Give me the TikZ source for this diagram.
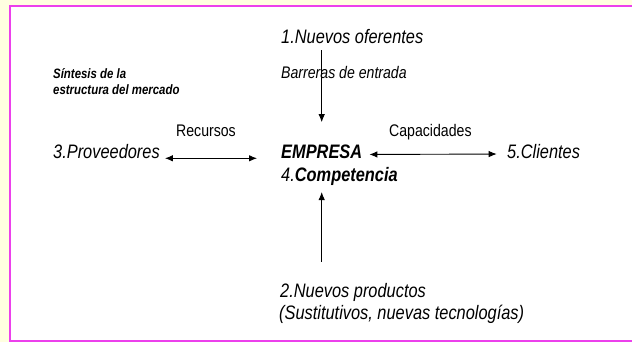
\documentclass[tikz,border=0pt]{standalone}
\usepackage{fontspec}
\setmainfont{Liberation Sans}[FakeStretch=0.84]
\usetikzlibrary{arrows.meta}
\definecolor{paper}{RGB}{255,255,224}
\definecolor{rim}{RGB}{236,64,236}

\begin{document}
\begin{tikzpicture}[x=1pt,y=-1pt]

    \tikzstyle{force} = [anchor=base west, inner sep=0pt, font=\fontsize{19.5}{23}\selectfont\itshape]
    \tikzstyle{flow} = [anchor=base west, inner sep=0pt, font=\fontsize{16.8}{20}\selectfont]
    \tikzstyle{flowit} = [flow, font=\fontsize{16.8}{20}\selectfont\itshape]
    \tikzstyle{note} = [anchor=base west, inner sep=0pt, font=\fontsize{13.6}{16}\selectfont\bfseries\itshape]
    \tikzstyle{arr} = [line width=0.9pt, -{Latex[length=8pt,width=6.5pt]}]
    \tikzstyle{arrs} = [line width=0.9pt, {Latex[length=8pt,width=6.5pt]}-{Latex[length=8pt,width=6.5pt]}]

    % Frame
    \useasboundingbox (0,0) rectangle (632,342);
    \clip (0,0) rectangle (632,342);
    \fill[paper] (0,0) rectangle (632,342);
    \draw[rim, line width=2pt, fill=white] (9.5,6) rectangle (650,341);

    % Nodes
    \node[force] at (281,44) (n1) {1.Nuevos oferentes};
    \node[force] at (53,159) (prov) {3.Proveedores};
    \node[force] at (281,159) (empresa) {\bfseries EMPRESA};
    \node[force] at (281,182) (comp) {4.\textbf{Competencia}};
    \node[force] at (507,158.5) (clientes) {5.Clientes};
    \node[force] at (280,297) (n2) {2.Nuevos productos};
    \node[force] at (279,319.5) (sust) {(Sustitutivos, nuevas tecnologías)};

    % Labels
    \node[note] at (53,79) (sintesis) {Síntesis de la};
    \node[note] at (53,95) (estructura) {estructura del mercado};
    \node[flowit] at (281,78.5) (barreras) {Barreras de entrada};
    \node[flow] at (176,137) (recursos) {Recursos};
    \node[flow] at (389,137) (capac) {Capacidades};

    % Arrows
    \draw[arr, shorten <=6pt, shorten >=23pt] (empresa.north |- n1.south) -- (empresa.north);
    \draw[arr, shorten <=21pt, shorten >=5.8pt] (empresa.north |- n2.north) -- (empresa.north |- comp.south);
    \draw[arrs, shorten <=5pt, shorten >=24pt] ([yshift=0.7pt]prov.base east) -- ([yshift=0.7pt]empresa.base west);
    \draw[arrs, shorten <=7pt, shorten >=10.3pt] ([yshift=4.5pt]empresa.base east) -- ([yshift=4.5pt]clientes.base west);

\end{tikzpicture}
\end{document}
